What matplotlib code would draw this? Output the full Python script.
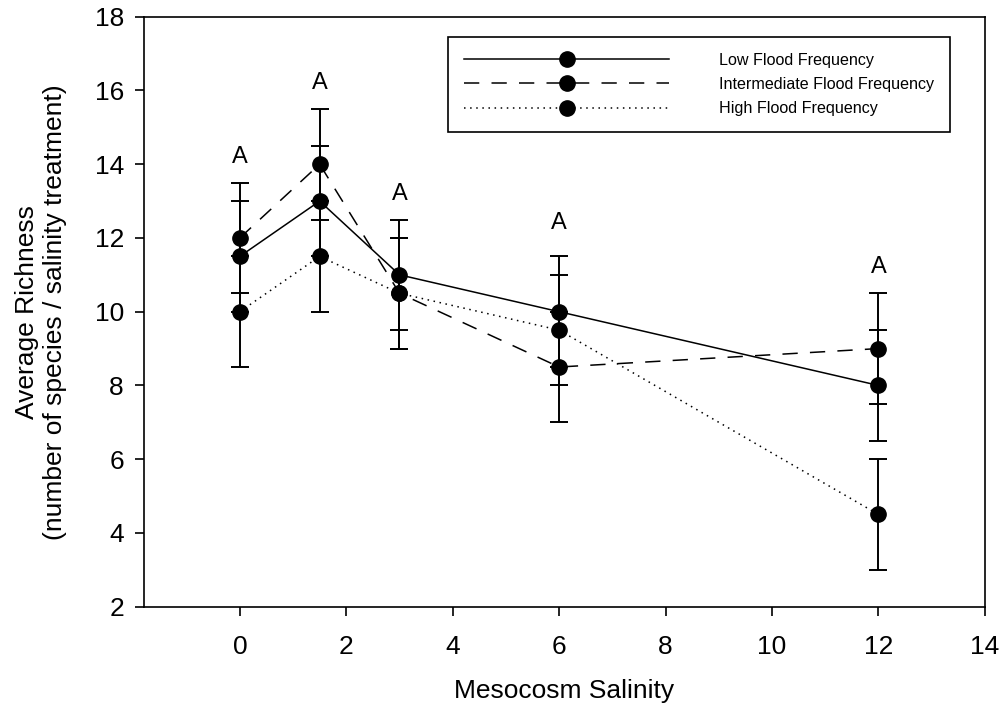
import matplotlib
matplotlib.use("Agg")
import matplotlib.pyplot as plt

# ─── Veri ─────────────────────────────────────────────────────────────────────
salinity = [0, 1.5, 3, 6, 12]

low_mean = [11.5, 13.0, 11.0, 10.0, 8.0]
int_mean = [12.0, 14.0, 10.5, 8.5, 9.0]
high_mean = [10.0, 11.5, 10.5, 9.5, 4.5]

low_err = [1.5, 1.5, 1.5, 1.5, 1.5]
int_err = [1.5, 1.5, 1.5, 1.5, 1.5]
high_err = [1.5, 1.5, 1.5, 1.5, 1.5]

letters = ["A", "A", "A", "A", "A"]
letter_y = [14.2, 16.2, 13.2, 12.4, 11.2]

series = [
    ("Low Flood Frequency", low_mean, low_err, "-"),
    ("Intermediate Flood Frequency", int_mean, int_err, (0, (10, 8))),
    ("High Flood Frequency", high_mean, high_err, (0, (1, 3))),
]

plt.rcParams["font.family"] = ["Liberation Sans", "DejaVu Sans"]

fig = plt.figure(figsize=(10.05, 7.15), dpi=100)
ax = fig.add_axes([0.1433, 0.1515, 0.980 - 0.1433, 0.9766 - 0.1515])

handles = []
for label, mean, err, ls in series:
    ax.errorbar(salinity, mean, yerr=err, fmt="none", ecolor="black",
                elinewidth=1.4, capsize=6.5, capthick=1.4, zorder=2)
    line, = ax.plot(salinity, mean, color="black", linestyle=ls, linewidth=1.1,
                    marker="o", markersize=11, markerfacecolor="black",
                    markeredgecolor="black", label=label, zorder=3)
    handles.append(line)

# harf etiketleri (istatistik grupları)
for x, y, t in zip(salinity, letter_y, letters):
    ax.text(x, y, t, ha="center", va="center", fontsize=17)

ax.set_xlim(-1.8, 14)
ax.set_ylim(2, 18)
ax.set_xticks(range(0, 15, 2))
ax.set_yticks(range(2, 19, 2))
ax.tick_params(axis="both", direction="out", length=6.5, width=1.2,
               labelsize=19)
ax.tick_params(axis="x", pad=14)
ax.tick_params(axis="y", pad=8)
for sp in ax.spines.values():
    sp.set_linewidth(1.2)

ax.set_xlabel("Mesocosm Salinity", fontsize=19, labelpad=14)
ax.set_ylabel("Average Richness\n(number of species / salinity treatment)",
              fontsize=19, labelpad=20)

leg = ax.legend(handles=handles, loc="upper right",
                bbox_to_anchor=(950 / 1005, 1 - 37 / 715),
                bbox_transform=fig.transFigure, borderaxespad=0,
                fontsize=11.6, numpoints=1, handlelength=12.7,
                handletextpad=3.1, labelspacing=0.56, borderpad=1.0,
                fancybox=False, framealpha=1, edgecolor="black")
leg.get_frame().set_linewidth(1.2)

fig.savefig("out.png", dpi=100)
